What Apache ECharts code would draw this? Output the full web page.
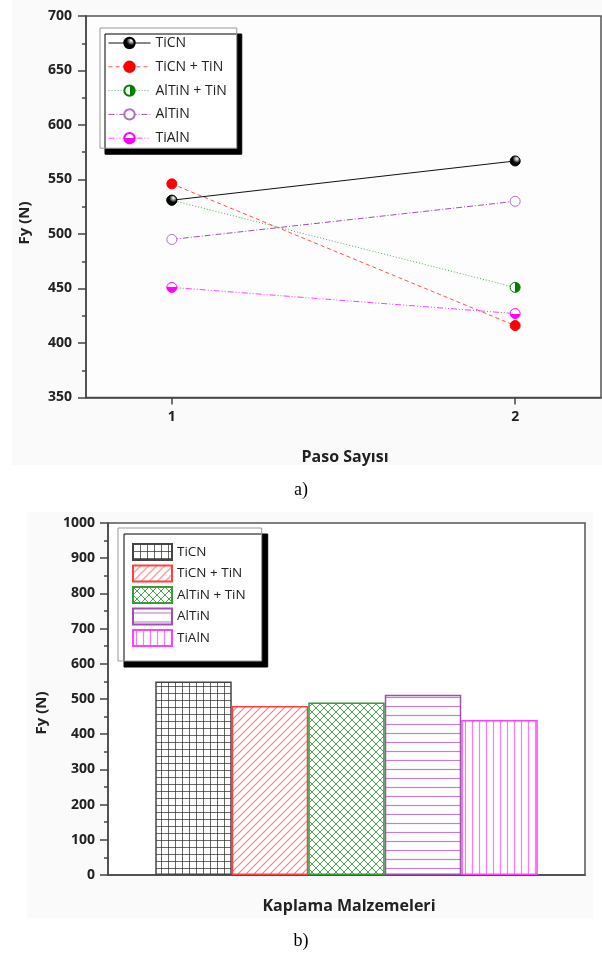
<!DOCTYPE html>
<html><head><meta charset="utf-8">
<script src="https://cdn.jsdelivr.net/npm/echarts@6/dist/echarts.min.js"></script>
<style>html,body{margin:0;padding:0;background:#fff}#c{width:602px;height:958px}</style>
</head><body><div id="c"></div>
<script>
// ---- data ----
const seriesNames = ['TiCN', 'TiCN + TiN', 'AlTiN + TiN', 'AlTiN', 'TiAlN'];
const passes = [1, 2];
const fyTiCN = [531, 567];
const fyTiCNTiN = [546, 416];
const fyAlTiNTiN = [531, 451];
const fyAlTiN = [495, 530];
const fyTiAlN = [451, 427];
const barValues = [550, 480, 490, 512, 440];
const xTicksA = [1, 2];

const FONT = '"Open Sans", "DejaVu Sans", sans-serif';

// ---- hatch patterns ----
function pat(kind, color, s, lw) {
  const c = document.createElement('canvas');
  c.width = s; c.height = s;
  const g = c.getContext('2d');
  g.fillStyle = '#fff'; g.fillRect(0, 0, s, s);
  g.strokeStyle = color; g.lineWidth = lw;
  g.beginPath();
  if (kind === 'grid') { g.moveTo(0.5, 0); g.lineTo(0.5, s); g.moveTo(0, 0.5); g.lineTo(s, 0.5); }
  if (kind === 'h') { g.moveTo(0, s / 2); g.lineTo(s, s / 2); }
  if (kind === 'v') { g.moveTo(s / 2, 0); g.lineTo(s / 2, s); }
  if (kind === 'diag' || kind === 'cross') {
    for (const o of [-s, 0, s]) { g.moveTo(o - 1, s + 1); g.lineTo(o + s + 1, -1); }
  }
  if (kind === 'cross') {
    for (const o of [-s, 0, s]) { g.moveTo(o - 1, -1); g.lineTo(o + s + 1, s + 1); }
  }
  g.stroke();
  return { image: c, repeat: 'repeat' };
}
const barStyles = [
  { fill: pat('grid', 'rgba(40,40,40,0.7)', 7, 1), border: '#444' },
  { fill: pat('diag', '#ff7a7a', 8, 1.1), border: '#ff4040' },
  { fill: pat('cross', '#4aa64a', 8, 1), border: '#3a9a3a' },
  { fill: pat('h', '#c080cc', 9, 1.2), border: '#a050b0' },
  { fill: pat('v', '#ff7aff', 7, 1.2), border: '#ff40ff' }
];

// ---- line styles ----
const lineDefs = [
  { data: fyTiCN, color: '#111', type: 'solid',
    fill: { type: 'radial', x: 0.65, y: 0.3, r: 0.7, colorStops: [{ offset: 0, color: '#fff' }, { offset: 0.25, color: '#999' }, { offset: 0.55, color: '#000' }, { offset: 1, color: '#000' }] },
    border: '#000' },
  { data: fyTiCNTiN, color: '#ff5050', type: [4, 3], fill: '#ff0000', border: '#ff0000' },
  { data: fyAlTiNTiN, color: '#55aa55', type: [1, 2],
    fill: { type: 'linear', x: 0, y: 0, x2: 1, y2: 0, colorStops: [{ offset: 0, color: '#fff' }, { offset: 0.5, color: '#fff' }, { offset: 0.5, color: '#008000' }, { offset: 1, color: '#008000' }] },
    border: '#008000' },
  { data: fyAlTiN, color: '#a050b0', type: [6, 2, 1, 2], fill: '#fff', border: '#b070c0' },
  { data: fyTiAlN, color: '#ff40ff', type: [6, 2, 1, 2, 1, 2],
    fill: { type: 'linear', x: 0, y: 0, x2: 0, y2: 1, colorStops: [{ offset: 0, color: '#fff' }, { offset: 0.5, color: '#fff' }, { offset: 0.5, color: '#ff00ff' }, { offset: 1, color: '#ff00ff' }] },
    border: '#ff00ff' }
];

const series = [];
lineDefs.forEach((d, i) => {
  series.push({
    type: 'line', name: seriesNames[i], xAxisIndex: 0, yAxisIndex: 0,
    data: passes.map((p, k) => [p, d.data[k]]),
    symbol: 'circle', symbolSize: 10,
    lineStyle: { color: d.color, width: 1, type: d.type },
    itemStyle: { color: d.fill, borderColor: d.border, borderWidth: 1 },
    animation: false, z: 5 - i
  });
});
seriesNames.forEach((n, i) => {
  series.push({
    type: 'bar', name: 'b:' + n, xAxisIndex: 1, yAxisIndex: 1,
    data: [barValues[i]], barWidth: 76.5, barGap: '0%',
    itemStyle: { color: barStyles[i].fill, borderColor: barStyles[i].border, borderWidth: 1.5 },
    animation: false
  });
});

const axisLineStyle = { color: '#444', width: 1.5 };
const labelStyle = { fontFamily: FONT, fontWeight: 'bold', fontSize: 14, color: '#222', formatter: v => String(v) };

const option = {
  backgroundColor: '#fff',
  animation: false,
  graphic: [
    { type: 'rect', shape: { x: 12, y: 0, width: 590, height: 465 }, style: { fill: '#fafafa' }, z: -10, silent: true },
    { type: 'rect', shape: { x: 27, y: 512, width: 566, height: 406 }, style: { fill: '#fafafa' }, z: -10, silent: true },
    { type: 'text', x: 25, y: 223, rotation: Math.PI / 2, style: { text: 'Fy (N)', font: 'bold 15px ' + FONT, fill: '#222', textAlign: 'center', textVerticalAlign: 'middle' } },
    { type: 'text', x: 345, y: 457, style: { text: 'Paso Sayısı', font: 'bold 16px ' + FONT, fill: '#222', textAlign: 'center', textVerticalAlign: 'middle' } },
    { type: 'text', x: 301, y: 490, style: { text: 'a)', font: '18px "Liberation Serif", serif', fill: '#000', textAlign: 'center', textVerticalAlign: 'middle' } },
    { type: 'text', x: 42, y: 713, rotation: Math.PI / 2, style: { text: 'Fy (N)', font: 'bold 15px ' + FONT, fill: '#222', textAlign: 'center', textVerticalAlign: 'middle' } },
    { type: 'text', x: 349, y: 906, style: { text: 'Kaplama Malzemeleri', font: 'bold 16px ' + FONT, fill: '#222', textAlign: 'center', textVerticalAlign: 'middle' } },
    { type: 'text', x: 301, y: 941, style: { text: 'b)', font: '18px "Liberation Serif", serif', fill: '#000', textAlign: 'center', textVerticalAlign: 'middle' } }
  ],
  grid: [
    { left: 86, top: 16, width: 515, height: 381.5, show: true, backgroundColor: '#fdfdfd', borderColor: '#555', borderWidth: 1.5 },
    { left: 108, top: 523, width: 477, height: 352, show: true, backgroundColor: '#fff', borderColor: '#555', borderWidth: 1.5 }
  ],
  xAxis: [
    { type: 'value', gridIndex: 0, min: 0.75, max: 2.25,
      axisLine: { show: true, lineStyle: axisLineStyle },
      axisTick: { show: true, length: 7, customValues: xTicksA, lineStyle: axisLineStyle },
      axisLabel: Object.assign({ customValues: xTicksA, margin: 13 }, labelStyle),
      splitLine: { show: false } },
    { type: 'category', gridIndex: 1, data: [''],
      axisLine: { show: true, lineStyle: axisLineStyle },
      axisTick: { show: false }, axisLabel: { show: false }, splitLine: { show: false } }
  ],
  yAxis: [
    { type: 'value', gridIndex: 0, min: 350, max: 700, interval: 50,
      axisLine: { show: true, lineStyle: axisLineStyle },
      axisTick: { show: true, length: 8, lineStyle: axisLineStyle },
      minorTick: { show: true, splitNumber: 2, length: 4, lineStyle: axisLineStyle },
      axisLabel: Object.assign({ margin: 14 }, labelStyle),
      splitLine: { show: false } },
    { type: 'value', gridIndex: 1, min: 0, max: 1000, interval: 100,
      axisLine: { show: true, lineStyle: axisLineStyle },
      axisTick: { show: true, length: 8, lineStyle: axisLineStyle },
      minorTick: { show: true, splitNumber: 2, length: 4, lineStyle: axisLineStyle },
      axisLabel: Object.assign({ margin: 13 }, labelStyle),
      splitLine: { show: false } }
  ],
  legend: [
    { orient: 'vertical', left: 100, top: 28, data: seriesNames,
      itemWidth: 42, itemHeight: 13, itemGap: 9.8,
      padding: [8, 10, 3, 8],
      lineStyle: { width: 1 },
      backgroundColor: '#fff', borderColor: '#999', borderWidth: 1,
      shadowColor: '#000', shadowBlur: 0, shadowOffsetX: 5, shadowOffsetY: 6,
      textStyle: { fontFamily: FONT, fontSize: 14, color: '#222', lineHeight: 13 },
      selectedMode: false },
    { orient: 'vertical', left: 118, top: 528, data: seriesNames.map(n => 'b:' + n),
      formatter: n => n.slice(2),
      icon: 'rect', itemWidth: 39, itemHeight: 16, itemGap: 3.5,
      padding: [15, 16, 14, 14],
      backgroundColor: '#fff', borderColor: '#999', borderWidth: 1,
      shadowColor: '#000', shadowBlur: 0, shadowOffsetX: 6, shadowOffsetY: 6,
      textStyle: { fontFamily: FONT, fontSize: 13.5, color: '#222', lineHeight: 16 },
      selectedMode: false }
  ],
  series: series
};
const chart = echarts.init(document.getElementById('c'), null, { renderer: 'canvas' });
chart.setOption(option);
</script></body></html>
